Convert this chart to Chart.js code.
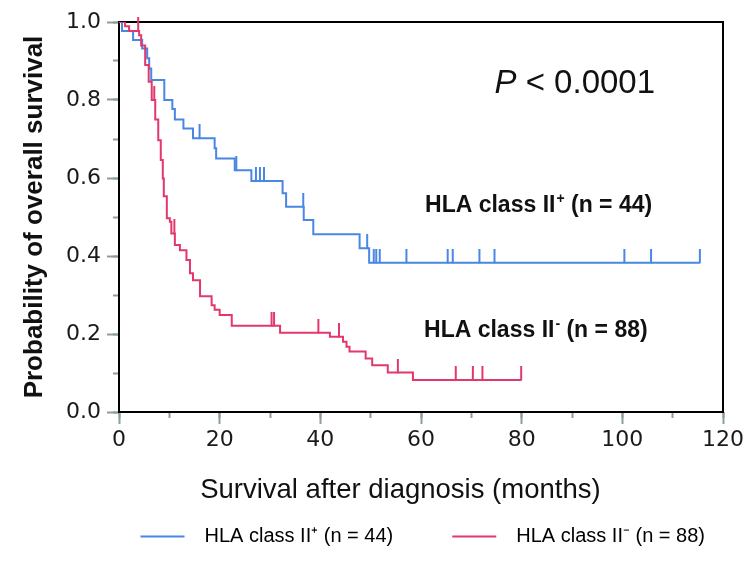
<!DOCTYPE html>
<html>
<head>
<meta charset="utf-8">
<script src="https://cdn.jsdelivr.net/npm/chart.js@4.4.1/dist/chart.umd.min.js"></script>
<style>
html,body{margin:0;padding:0;background:#fff;}
#wrap{width:747px;height:571px;}
</style>
</head>
<body>
<div id="wrap"><canvas id="c" width="747" height="571"></canvas></div>
<script>
// ---- data ----
const seriesNames = ['HLA class II\u207A (n = 44)', 'HLA class II\u207B (n = 88)'];

// HLA class II+ : Kaplan-Meier steps (time in months, survival after the step)
const posEventTimes = [0, 0.6, 2.8, 4.6, 5.6, 6.0, 6.4, 9.0, 10.6, 11.1, 12.8, 14.7, 19.0, 19.3, 23.0, 26.3, 32.5, 33.2, 36.7, 38.6, 47.8, 49.7, 115.4];
const posSurvival   = [1.0, 0.977, 0.954, 0.932, 0.907, 0.881, 0.851, 0.80, 0.777, 0.75, 0.727, 0.702, 0.676, 0.65, 0.62, 0.592, 0.561, 0.526, 0.492, 0.456, 0.42, 0.383, 0.383];
const posCensorTimes = [16.0, 23.3, 27.2, 28.0, 28.8, 36.6, 49.3, 50.6, 51.1, 51.8, 57.1, 65.3, 66.3, 71.6, 74.6, 100.4, 105.7, 115.4];

// HLA class II- : Kaplan-Meier steps
const negEventTimes = [0, 1.2, 2.0, 4.0, 4.4, 5.2, 5.9, 6.5, 7.2, 7.8, 8.3, 8.7, 8.9, 9.5, 10.1, 10.4, 11.1, 12.1, 13.4, 14.1, 14.7, 16.1, 18.4, 19.0, 20.0, 22.4, 32.0, 41.9, 44.5, 45.2, 45.8, 49.0, 50.3, 53.4, 58.4, 79.9];
const negSurvival   = [1.0, 0.989, 0.977, 0.966, 0.94, 0.89, 0.847, 0.80, 0.75, 0.697, 0.646, 0.599, 0.553, 0.497, 0.488, 0.458, 0.428, 0.415, 0.39, 0.356, 0.338, 0.297, 0.274, 0.262, 0.249, 0.221, 0.203, 0.193, 0.18, 0.167, 0.155, 0.137, 0.12, 0.101, 0.082, 0.082];
const negCensorTimes = [3.8, 7.0, 11.0, 30.3, 30.8, 39.6, 43.7, 55.4, 66.9, 70.3, 72.2, 79.9];

const xTickValues = [0, 20, 40, 60, 80, 100, 120];
const xMinorValues = [0, 10, 20, 30, 40, 50, 60, 70, 80, 90, 100, 110, 120];
const yTickValues = [0, 0.2, 0.4, 0.6, 0.8, 1.0];
const yMinorValues = [0, 0.1, 0.2, 0.3, 0.4, 0.5, 0.6, 0.7, 0.8, 0.9, 1.0];

const pValueText = ['P', ' < 0.0001'];
const groupLabelParts = [['HLA class II', '+', ' (n = 44)'], ['HLA class II', '-', ' (n = 88)']];
const xTitle = 'Survival after diagnosis (months)';
const yTitle = 'Probability of overall survival';

// ---- styling / placement ----
const BLUE = '#4a86e4';
const RED = '#e2386c';
const TICK_GRAY = '#8c9c9c';
const pValuePos = {x: 74.6, y: 0.817};
const groupLabelPos = [{x: 60.8, y: 0.514}, {x: 60.6, y: 0.193}];

function levelAt(times, surv, t) {
  let s = surv[0];
  for (let i = 0; i < times.length; i++) if (times[i] <= t) s = surv[i];
  return s;
}
function makeTick(color) {
  const c = document.createElement('canvas');
  c.width = 4; c.height = 28;
  const g = c.getContext('2d');
  g.strokeStyle = color; g.lineWidth = 2;
  g.beginPath(); g.moveTo(2, 0); g.lineTo(2, 14.5); g.stroke();
  return c;
}

const posCurve = posEventTimes.map((t, i) => ({x: t, y: posSurvival[i]}));
const negCurve = negEventTimes.map((t, i) => ({x: t, y: negSurvival[i]}));
const posCensor = posCensorTimes.map(t => ({x: t, y: levelAt(posEventTimes, posSurvival, t)}));
const negCensor = negCensorTimes.map(t => ({x: t, y: levelAt(negEventTimes, negSurvival, t)}));

const framePlugin = {
  id: 'frame',
  beforeDatasetsDraw(chart) {
    const {ctx, chartArea: a} = chart;
    ctx.save();
    ctx.strokeStyle = '#000';
    ctx.lineWidth = 2;
    ctx.strokeRect(a.left, a.top, a.right - a.left, a.bottom - a.top);
    ctx.restore();
  }
};

const textPlugin = {
  id: 'kmText',
  afterDatasetsDraw(chart) {
    const {ctx} = chart;
    const xs = chart.scales.x, ys = chart.scales.y;
    ctx.save();
    ctx.fillStyle = '#111';
    ctx.textBaseline = 'alphabetic';
    ctx.textAlign = 'left';
    let px = xs.getPixelForValue(pValuePos.x), py = ys.getPixelForValue(pValuePos.y);
    ctx.font = 'italic 33px "Liberation Sans", Arial, sans-serif';
    ctx.fillText(pValueText[0], px, py);
    px += ctx.measureText(pValueText[0]).width;
    ctx.font = '33px "Liberation Sans", Arial, sans-serif';
    ctx.fillText(pValueText[1], px, py);

    groupLabelParts.forEach((parts, i) => {
      let gx = xs.getPixelForValue(groupLabelPos[i].x);
      const gy = ys.getPixelForValue(groupLabelPos[i].y);
      ctx.font = 'bold 23px "Liberation Sans", Arial, sans-serif';
      ctx.fillText(parts[0], gx, gy);
      gx += ctx.measureText(parts[0]).width + 1;
      ctx.font = 'bold 14px "Liberation Sans", Arial, sans-serif';
      ctx.fillText(parts[1], gx, gy - 9);
      gx += ctx.measureText(parts[1]).width;
      ctx.font = 'bold 23px "Liberation Sans", Arial, sans-serif';
      ctx.fillText(parts[2], gx, gy);
    });
    ctx.restore();
  }
};

const tickFont = {family: '"DejaVu Sans", sans-serif', size: 22};

new Chart(document.getElementById('c'), {
  type: 'line',
  data: {
    datasets: [
      {label: seriesNames[0], data: posCurve, borderColor: BLUE, backgroundColor: BLUE, borderWidth: 2, stepped: true, pointRadius: 0, fill: false, order: 2},
      {label: seriesNames[1], data: negCurve, borderColor: RED, backgroundColor: RED, borderWidth: 2, stepped: true, pointRadius: 0, fill: false, order: 1},
      {label: 'censorPos', data: posCensor, showLine: false, pointStyle: makeTick(BLUE), pointRadius: 4, clip: false, order: 2},
      {label: 'censorNeg', data: negCensor, showLine: false, pointStyle: makeTick(RED), pointRadius: 4, clip: false, order: 1}
    ]
  },
  options: {
    responsive: false,
    animation: false,
    devicePixelRatio: 1,
    layout: {padding: {left: 19, right: 23, top: 22, bottom: 14.5}},
    plugins: {
      tooltip: {enabled: false},
      legend: {
        position: 'bottom',
        align: 'end',
        labels: {
          generateLabels: chart => chart.data.datasets.slice(0, 2).map((ds, i) => ({
            text: '\u2002' + ds.label + (i === 0 ? '\u2003\u2003' : ''),
            fillStyle: ds.borderColor,
            strokeStyle: ds.borderColor,
            lineWidth: 0,
            hidden: false,
            datasetIndex: i
          })),
          boxWidth: 44,
          boxHeight: 2,
          padding: 19,
          color: '#111',
          font: {family: '"Liberation Sans", Arial, sans-serif', size: 20}
        }
      }
    },
    scales: {
      xMinor: {
        type: 'linear', position: 'bottom', weight: 0, min: 0, max: 120,
        afterBuildTicks: s => { s.ticks = xMinorValues.map(v => ({value: v})); },
        afterFit: s => { s.height = 0; },
        ticks: {display: false},
        grid: {drawOnChartArea: false, drawTicks: true, tickLength: 6, color: TICK_GRAY, tickWidth: 2},
        border: {display: false}
      },
      x: {
        type: 'linear', position: 'bottom', weight: 1, min: 0, max: 120,
        afterBuildTicks: s => { s.ticks = xTickValues.map(v => ({value: v})); },
        afterFit: s => { s.height = 95.5; },
        ticks: {font: tickFont, color: '#1a1a1a', padding: 3, maxRotation: 0, autoSkip: false},
        grid: {drawOnChartArea: false, drawTicks: true, tickLength: 12, color: TICK_GRAY, tickWidth: 2},
        border: {display: false},
        title: {display: true, text: xTitle + '\u2002\u2002\u2002', color: '#111',
                font: {family: '"Liberation Sans", Arial, sans-serif', size: 27.5}, padding: {top: 0, bottom: 1}}
      },
      yMinor: {
        type: 'linear', position: 'left', weight: 0, min: 0, max: 1,
        afterBuildTicks: s => { s.ticks = yMinorValues.map(v => ({value: v})); },
        afterFit: s => { s.width = 0; },
        ticks: {display: false},
        grid: {drawOnChartArea: false, drawTicks: true, tickLength: 6, color: TICK_GRAY, tickWidth: 2},
        border: {display: false}
      },
      y: {
        type: 'linear', position: 'left', weight: 1, min: 0, max: 1,
        afterBuildTicks: s => { s.ticks = yTickValues.map(v => ({value: v})); },
        afterFit: s => { s.width = 100; },
        ticks: {font: tickFont, color: '#1a1a1a', padding: 6, callback: v => Number(v).toFixed(1)},
        grid: {drawOnChartArea: false, drawTicks: true, tickLength: 12, color: TICK_GRAY, tickWidth: 2},
        border: {display: false},
        title: {display: true, text: yTitle, color: '#111',
                font: {family: '"Liberation Sans", Arial, sans-serif', size: 26, weight: 'bold'}, padding: {top: 0, bottom: 0}}
      }
    }
  },
  plugins: [framePlugin, textPlugin]
});
</script>
</body>
</html>
